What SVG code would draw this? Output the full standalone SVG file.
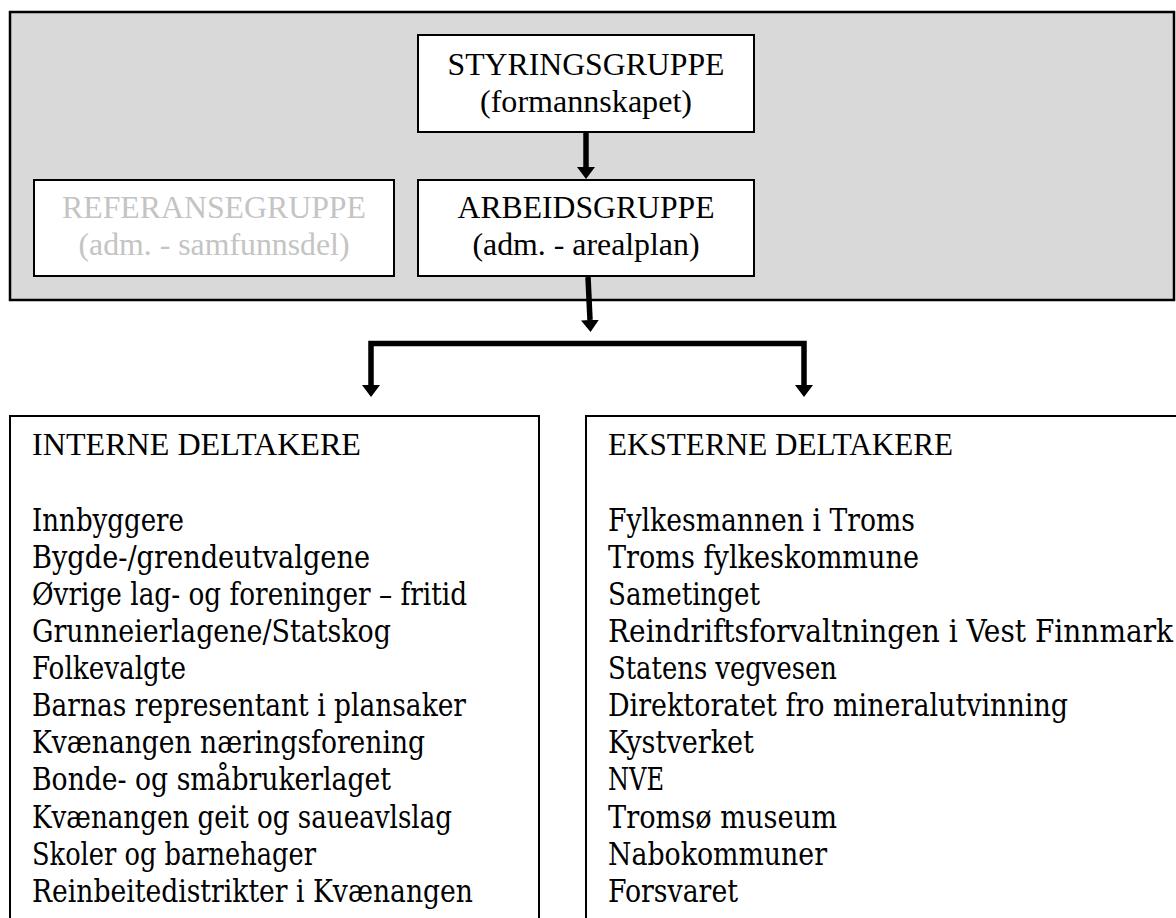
<svg xmlns="http://www.w3.org/2000/svg" width="1176" height="918" viewBox="0 0 1176 918">
<defs>
<style>
.box{fill:#fff;stroke:#000;stroke-width:2}
.t{font-size:31px;fill:#000}
.c{text-anchor:middle}
.g{fill:#c4c4c4}
.l{font-size:31px;font-stretch:condensed;fill:#000}
.w{fill:none;stroke:#000;stroke-width:5.5}
</style>
<marker id="ah" markerUnits="userSpaceOnUse" markerWidth="12" markerHeight="18" refX="0" refY="9" orient="auto" viewBox="0 0 12 18">
<path d="M0,0 L12,9 L0,18 Z" fill="#000"/>
</marker>
</defs>
<rect width="1176" height="918" fill="#fff"/>
<g id="frame">
<rect x="10" y="12" width="1164" height="288" fill="#d9d9d9" stroke="#000" stroke-width="2.5"/>
</g>
<g id="styringsgruppe" font-family="Liberation Serif, Times New Roman, serif">
<rect class="box" x="418" y="35" width="336" height="97"/>
<text class="t c" x="586" y="75" textLength="277" lengthAdjust="spacingAndGlyphs">STYRINGSGRUPPE</text>
<text class="t c" x="586" y="112" textLength="212" lengthAdjust="spacingAndGlyphs">(formannskapet)</text>
</g>
<g id="referansegruppe" font-family="Liberation Serif, Times New Roman, serif">
<rect class="box" x="34" y="180" width="360" height="96"/>
<text class="t c g" x="214" y="218" textLength="304" lengthAdjust="spacingAndGlyphs">REFERANSEGRUPPE</text>
<text class="t c g" x="214" y="255" textLength="271" lengthAdjust="spacingAndGlyphs">(adm. - samfunnsdel)</text>
</g>
<g id="arbeidsgruppe" font-family="Liberation Serif, Times New Roman, serif">
<rect class="box" x="418" y="180" width="336" height="96"/>
<text class="t c" x="586" y="218" textLength="257" lengthAdjust="spacingAndGlyphs">ARBEIDSGRUPPE</text>
<text class="t c" x="586" y="255" textLength="227" lengthAdjust="spacingAndGlyphs">(adm. - arealplan)</text>
</g>
<g id="interne">
<rect class="box" x="10" y="416" width="529" height="520"/>
<g font-family="Liberation Serif, Times New Roman, serif">
<text class="t" x="32" y="455" textLength="329" lengthAdjust="spacingAndGlyphs">INTERNE DELTAKERE</text>
</g>
<g font-family="DejaVu Serif Condensed, DejaVu Serif, serif">
<text class="l" x="32" y="531" textLength="152" lengthAdjust="spacingAndGlyphs">Innbyggere</text>
<text class="l" x="32" y="568" textLength="338" lengthAdjust="spacingAndGlyphs">Bygde-/grendeutvalgene</text>
<text class="l" x="32" y="605" textLength="435" lengthAdjust="spacingAndGlyphs">Øvrige lag- og foreninger – fritid</text>
<text class="l" x="32" y="642" textLength="359" lengthAdjust="spacingAndGlyphs">Grunneierlagene/Statskog</text>
<text class="l" x="32" y="679" textLength="154" lengthAdjust="spacingAndGlyphs">Folkevalgte</text>
<text class="l" x="32" y="716" textLength="434" lengthAdjust="spacingAndGlyphs">Barnas representant i plansaker</text>
<text class="l" x="32" y="753" textLength="393" lengthAdjust="spacingAndGlyphs">Kvænangen næringsforening</text>
<text class="l" x="32" y="790" textLength="359" lengthAdjust="spacingAndGlyphs">Bonde- og småbrukerlaget</text>
<text class="l" x="32" y="828" textLength="420" lengthAdjust="spacingAndGlyphs">Kvænangen geit og saueavlslag</text>
<text class="l" x="32" y="865" textLength="284" lengthAdjust="spacingAndGlyphs">Skoler og barnehager</text>
<text class="l" x="32" y="902" textLength="441" lengthAdjust="spacingAndGlyphs">Reinbeitedistrikter i Kvænangen</text>
</g>
</g>
<g id="eksterne">
<rect class="box" x="586" y="416" width="620" height="520"/>
<g font-family="Liberation Serif, Times New Roman, serif">
<text class="t" x="608" y="455" textLength="345" lengthAdjust="spacingAndGlyphs">EKSTERNE DELTAKERE</text>
</g>
<g font-family="DejaVu Serif Condensed, DejaVu Serif, serif">
<text class="l" x="608" y="531" textLength="307" lengthAdjust="spacingAndGlyphs">Fylkesmannen i Troms</text>
<text class="l" x="608" y="568" textLength="311" lengthAdjust="spacingAndGlyphs">Troms fylkeskommune</text>
<text class="l" x="608" y="605" textLength="152" lengthAdjust="spacingAndGlyphs">Sametinget</text>
<text class="l" x="608" y="642" textLength="565" lengthAdjust="spacingAndGlyphs">Reindriftsforvaltningen i Vest Finnmark</text>
<text class="l" x="608" y="679" textLength="229" lengthAdjust="spacingAndGlyphs">Statens vegvesen</text>
<text class="l" x="608" y="716" textLength="460" lengthAdjust="spacingAndGlyphs">Direktoratet fro mineralutvinning</text>
<text class="l" x="608" y="753" textLength="146" lengthAdjust="spacingAndGlyphs">Kystverket</text>
<text class="l" x="608" y="790" textLength="56" lengthAdjust="spacingAndGlyphs">NVE</text>
<text class="l" x="608" y="828" textLength="229" lengthAdjust="spacingAndGlyphs">Tromsø museum</text>
<text class="l" x="608" y="865" textLength="219" lengthAdjust="spacingAndGlyphs">Nabokommuner</text>
<text class="l" x="608" y="902" textLength="130" lengthAdjust="spacingAndGlyphs">Forsvaret</text>
</g>
</g>
<g id="connectors">
<line class="w" x1="586" y1="133" x2="586" y2="167" marker-end="url(#ah)"/>
<line class="w" x1="588" y1="277" x2="590" y2="320" marker-end="url(#ah)"/>
<polyline class="w" points="371,385 371,343.5 804,343.5 804,385" stroke-linejoin="miter"/>
<path d="M362,385 L380,385 L371,397 Z M795,385 L813,385 L804,397 Z" fill="#000"/>
</g>
</svg>
